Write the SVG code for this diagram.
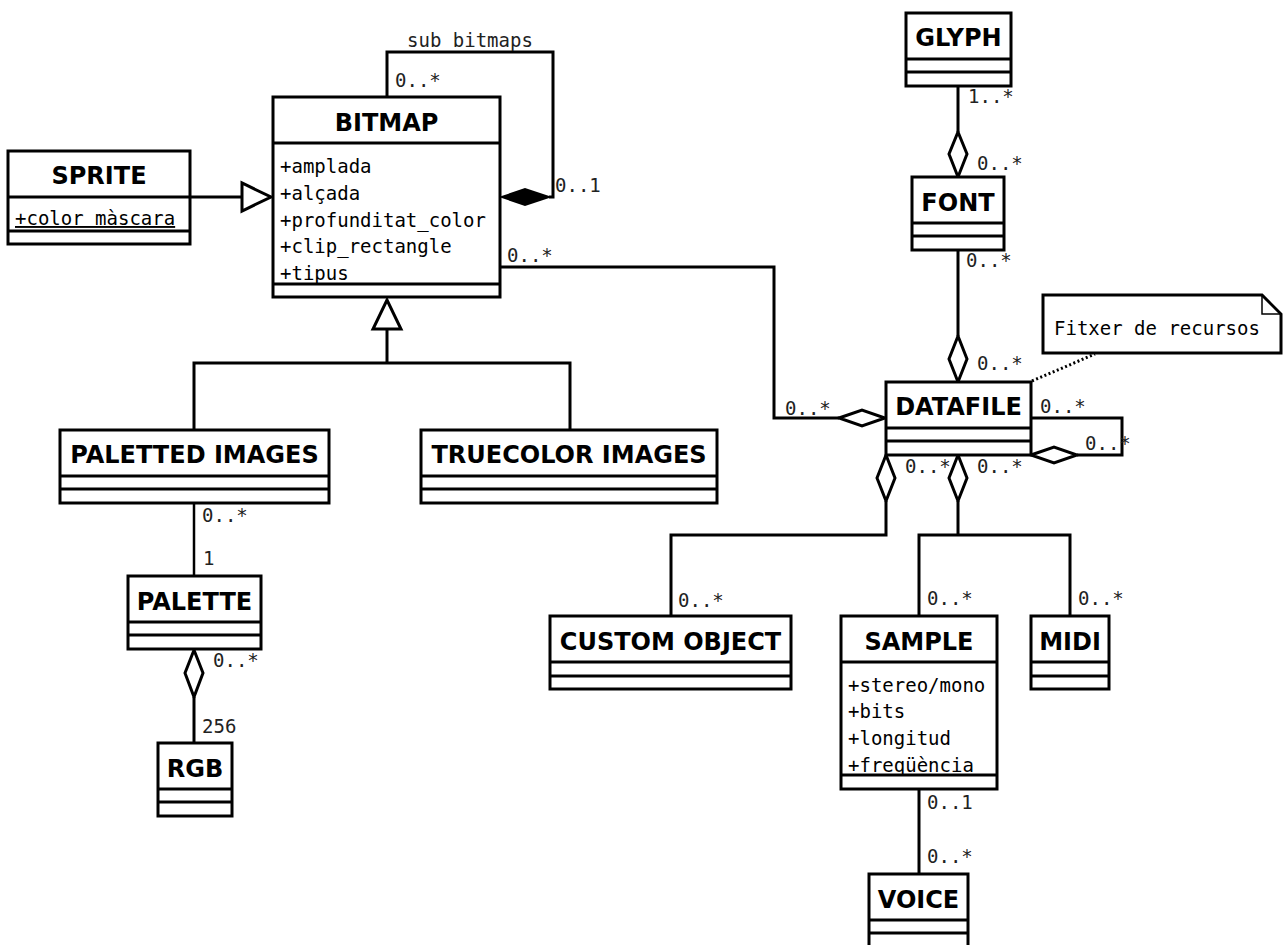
<svg xmlns="http://www.w3.org/2000/svg" width="1284" height="945" viewBox="0 0 1284 945">
  <style>
    .box { fill: #fff; stroke: #000; stroke-width: 3; }
    .sep { stroke: #000; stroke-width: 3; }
    .title { font-family: "DejaVu Sans", "Liberation Sans", sans-serif; font-weight: bold; font-size: 24px; text-anchor: middle; fill: #000; }
    .attr { font-family: "DejaVu Sans Mono", "Liberation Mono", monospace; font-size: 19px; fill: #000; }
    .lbl { font-family: "DejaVu Sans Mono", "Liberation Mono", monospace; font-size: 19px; fill: #222; }
    .conn { fill: none; stroke: #000; stroke-width: 3; }
    .thin { fill: none; stroke: #000; stroke-width: 2.5; }
    .hollow { fill: #fff; stroke: #000; stroke-width: 3; stroke-linejoin: miter; }
    .solid { fill: #000; stroke: #000; stroke-width: 2; }
    .dots { fill: none; stroke: #000; stroke-width: 3; stroke-dasharray: 2 2.5; }
  </style>

  <!-- connectors -->
  <g id="connectors">
    <!-- SPRITE generalizes BITMAP -->
    <line class="conn" x1="190" y1="197" x2="242" y2="197"/>
    <polygon class="hollow" points="242,183 242,211 271,197"/>

    <!-- BITMAP sub bitmaps (composition) -->
    <polyline class="conn" points="387,97 387,52 553,52 553,197 549,197"/>
    <polygon class="solid" points="502,197 525,189 549,197 525,205"/>

    <!-- BITMAP to DATAFILE (aggregation) -->
    <polyline class="conn" points="500,267 774,267 774,418 839,418"/>
    <polygon class="hollow" points="839,418 862,410 885,418 862,426"/>

    <!-- image kinds generalize BITMAP -->
    <polyline class="conn" points="194,430 194,363 570,363 570,430"/>
    <line class="conn" x1="387" y1="363" x2="387" y2="329"/>
    <polygon class="hollow" points="373,329 401,329 387,300"/>

    <!-- PALETTED IMAGES to PALETTE -->
    <line class="thin" x1="194" y1="503" x2="194" y2="576"/>

    <!-- PALETTE to RGB -->
    <line class="conn" x1="194" y1="697" x2="194" y2="743"/>
    <polygon class="hollow" points="194,650 203,673 194,697 185,673"/>

    <!-- GLYPH to FONT -->
    <line class="conn" x1="958" y1="86" x2="958" y2="132"/>
    <polygon class="hollow" points="958,132 967,154 958,177 949,154"/>

    <!-- FONT to DATAFILE -->
    <line class="conn" x1="958" y1="250" x2="958" y2="336"/>
    <polygon class="hollow" points="958,336 967,359 958,382 949,359"/>

    <!-- DATAFILE self association -->
    <polyline class="conn" points="1031,418 1122,418 1122,455 1077,455"/>
    <polygon class="hollow" points="1031,455 1054,447 1077,455 1054,463"/>

    <!-- DATAFILE to CUSTOM OBJECT -->
    <polyline class="conn" points="886,501 886,535 671,535 671,616"/>
    <polygon class="hollow" points="886,455 895,478 886,501 877,478"/>

    <!-- DATAFILE to SAMPLE and MIDI -->
    <line class="conn" x1="958" y1="501" x2="958" y2="535"/>
    <polyline class="conn" points="919,616 919,535 1070,535 1070,616"/>
    <polygon class="hollow" points="958,455 967,478 958,501 949,478"/>

    <!-- SAMPLE to VOICE -->
    <line class="conn" x1="919" y1="789" x2="919" y2="874"/>

    <!-- note anchor -->
    <line class="dots" x1="1032" y1="381" x2="1095" y2="354"/>

    <!-- role names and multiplicities -->
    <text class="lbl" x="407" y="47">sub bitmaps</text>
    <text class="lbl" x="395" y="87">0..*</text>
    <text class="lbl" x="555" y="192">0..1</text>
    <text class="lbl" x="507" y="262">0..*</text>
    <text class="lbl" x="785" y="415">0..*</text>
    <text class="lbl" x="202" y="522">0..*</text>
    <text class="lbl" x="203" y="565">1</text>
    <text class="lbl" x="213" y="667">0..*</text>
    <text class="lbl" x="202" y="733">256</text>
    <text class="lbl" x="968" y="103">1..*</text>
    <text class="lbl" x="977" y="170">0..*</text>
    <text class="lbl" x="966" y="267">0..*</text>
    <text class="lbl" x="977" y="370">0..*</text>
    <text class="lbl" x="1040" y="413">0..*</text>
    <text class="lbl" x="1085" y="450">0..*</text>
    <text class="lbl" x="905" y="473">0..*</text>
    <text class="lbl" x="977" y="473">0..*</text>
    <text class="lbl" x="678" y="607">0..*</text>
    <text class="lbl" x="927" y="605">0..*</text>
    <text class="lbl" x="1078" y="605">0..*</text>
    <text class="lbl" x="927" y="809">0..1</text>
    <text class="lbl" x="927" y="863">0..*</text>
  </g>

  <!-- classes -->
  <g id="sprite">
    <rect class="box" x="8" y="151" width="182" height="93"/>
    <line class="sep" x1="8" y1="197" x2="190" y2="197"/>
    <line class="sep" x1="8" y1="231" x2="190" y2="231"/>
    <text class="title" x="99" y="184">SPRITE</text>
    <text class="attr" x="15" y="225" text-decoration="underline">+color màscara</text>
  </g>

  <g id="bitmap">
    <rect class="box" x="273" y="97" width="227" height="200"/>
    <line class="sep" x1="273" y1="143" x2="500" y2="143"/>
    <line class="sep" x1="273" y1="284" x2="500" y2="284"/>
    <text class="title" x="386.5" y="131">BITMAP</text>
    <text class="attr" x="280" y="173">+amplada</text>
    <text class="attr" x="280" y="200">+alçada</text>
    <text class="attr" x="280" y="227">+profunditat_color</text>
    <text class="attr" x="280" y="253">+clip_rectangle</text>
    <text class="attr" x="280" y="280">+tipus</text>
  </g>

  <g id="paletted-images">
    <rect class="box" x="60" y="430" width="269" height="73"/>
    <line class="sep" x1="60" y1="476" x2="329" y2="476"/>
    <line class="sep" x1="60" y1="489" x2="329" y2="489"/>
    <text class="title" x="194.5" y="463">PALETTED IMAGES</text>
  </g>

  <g id="truecolor-images">
    <rect class="box" x="421" y="430" width="296" height="73"/>
    <line class="sep" x1="421" y1="476" x2="717" y2="476"/>
    <line class="sep" x1="421" y1="489" x2="717" y2="489"/>
    <text class="title" x="569" y="463">TRUECOLOR IMAGES</text>
  </g>

  <g id="palette">
    <rect class="box" x="128" y="576" width="133" height="73"/>
    <line class="sep" x1="128" y1="622" x2="261" y2="622"/>
    <line class="sep" x1="128" y1="635" x2="261" y2="635"/>
    <text class="title" x="194.5" y="610">PALETTE</text>
  </g>

  <g id="rgb">
    <rect class="box" x="158" y="743" width="74" height="73"/>
    <line class="sep" x1="158" y1="789" x2="232" y2="789"/>
    <line class="sep" x1="158" y1="802" x2="232" y2="802"/>
    <text class="title" x="195" y="777">RGB</text>
  </g>

  <g id="glyph">
    <rect class="box" x="906" y="13" width="105" height="73"/>
    <line class="sep" x1="906" y1="59" x2="1011" y2="59"/>
    <line class="sep" x1="906" y1="72" x2="1011" y2="72"/>
    <text class="title" x="958.5" y="46">GLYPH</text>
  </g>

  <g id="font">
    <rect class="box" x="912" y="177" width="92" height="73"/>
    <line class="sep" x1="912" y1="223" x2="1004" y2="223"/>
    <line class="sep" x1="912" y1="236" x2="1004" y2="236"/>
    <text class="title" x="958" y="211">FONT</text>
  </g>

  <g id="datafile">
    <rect class="box" x="886" y="382" width="145" height="73"/>
    <line class="sep" x1="886" y1="428" x2="1031" y2="428"/>
    <line class="sep" x1="886" y1="441" x2="1031" y2="441"/>
    <text class="title" x="958.5" y="415">DATAFILE</text>
  </g>

  <g id="note">
    <path class="box" d="M1043,295 H1262 L1281,314 V353 H1043 Z"/>
    <path fill="none" stroke="#000" stroke-width="1.5" d="M1262,295 V314 H1281"/>
    <text class="attr" x="1054" y="335">Fitxer de recursos</text>
  </g>

  <g id="custom-object">
    <rect class="box" x="550" y="616" width="241" height="73"/>
    <line class="sep" x1="550" y1="662" x2="791" y2="662"/>
    <line class="sep" x1="550" y1="676" x2="791" y2="676"/>
    <text class="title" x="670.5" y="650">CUSTOM OBJECT</text>
  </g>

  <g id="sample">
    <rect class="box" x="841" y="616" width="156" height="173"/>
    <line class="sep" x1="841" y1="662" x2="997" y2="662"/>
    <line class="sep" x1="841" y1="775" x2="997" y2="775"/>
    <text class="title" x="919" y="650">SAMPLE</text>
    <text class="attr" x="848" y="692">+stereo/mono</text>
    <text class="attr" x="848" y="718">+bits</text>
    <text class="attr" x="848" y="745">+longitud</text>
    <text class="attr" x="848" y="772">+freqüència</text>
  </g>

  <g id="midi">
    <rect class="box" x="1031" y="616" width="78" height="73"/>
    <line class="sep" x1="1031" y1="662" x2="1109" y2="662"/>
    <line class="sep" x1="1031" y1="676" x2="1109" y2="676"/>
    <text class="title" x="1070" y="650">MIDI</text>
  </g>

  <g id="voice">
    <rect class="box" x="869" y="874" width="99" height="80"/>
    <line class="sep" x1="869" y1="920" x2="968" y2="920"/>
    <line class="sep" x1="869" y1="933" x2="968" y2="933"/>
    <text class="title" x="918.5" y="908">VOICE</text>
  </g>
</svg>
